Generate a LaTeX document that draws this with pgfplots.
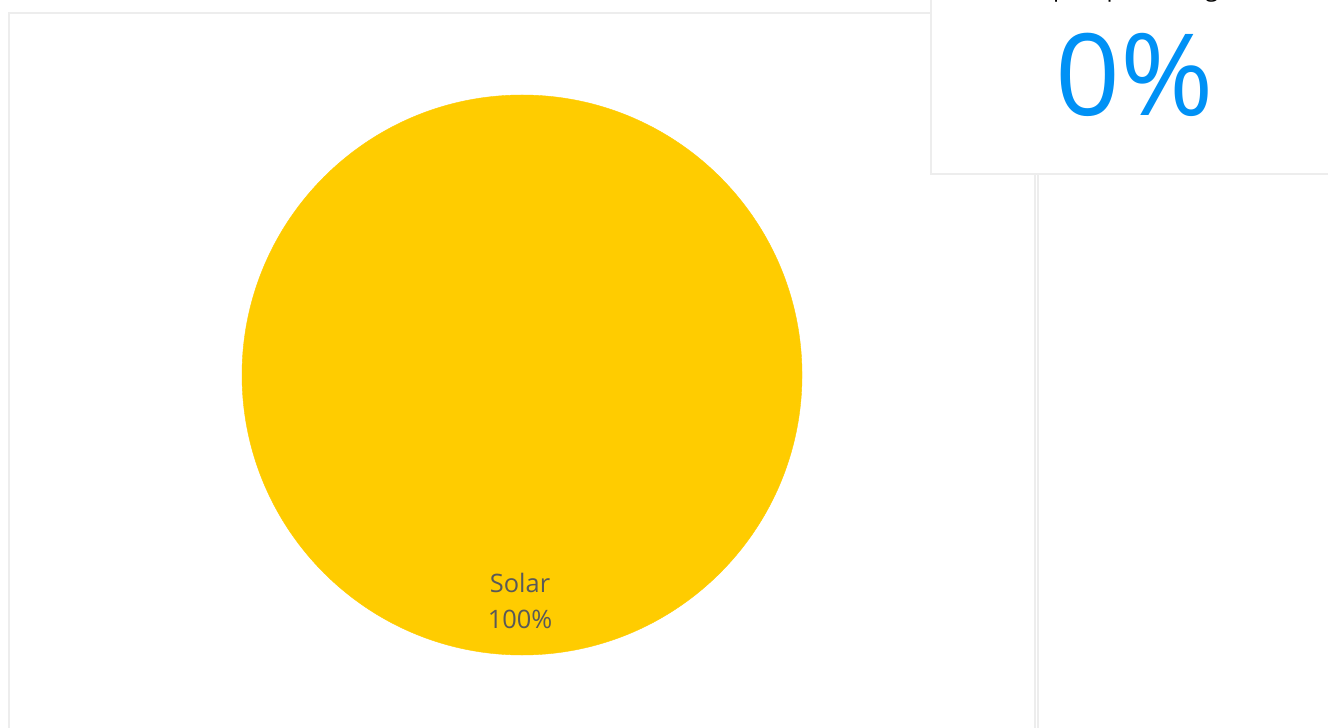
\documentclass[border=0pt]{standalone}
\usepackage{pgfplots}
\pgfplotsset{compat=1.18}
\usepackage{fontspec}
\setmainfont{Open Sans}
\definecolor{pieyellow}{HTML}{FFCC00}
\definecolor{lblgray}{HTML}{595959}
\definecolor{cardblue}{HTML}{0091F5}
\definecolor{bordergray}{HTML}{EDEDED}
\begin{document}
\begin{tikzpicture}[x=1bp,y=1bp]
\path[use as bounding box] (0,0) rectangle (1328,727);
\clip (0,0) rectangle (1328,727);
\begin{axis}[
  at={(0,0)}, anchor=south west,
  width=1328bp, height=727bp, scale only axis,
  xmin=0, xmax=1328, ymin=0, ymax=727, y dir=reverse,
  hide axis, clip=false,
]
% panels
\draw[bordergray, line width=2.5bp, fill=white] (axis cs:9,800) -- (axis cs:9,13) -- (axis cs:1035,13) -- (axis cs:1035,800);
\draw[bordergray, line width=2.5bp] (axis cs:1038,800) -- (axis cs:1038,174);
% pie (single slice: Solar 100%)
\addplot[only marks, mark=*, mark size=280bp, color=pieyellow, mark options={draw=pieyellow, fill=pieyellow}] coordinates {(522,375)};
\coordinate (lbl) at (axis cs:520,601);
\coordinate (card) at (axis cs:1135,75);
\coordinate (ttl) at (axis cs:1128,-3);
\coordinate (cardA) at (axis cs:931,-20);
\coordinate (cardB) at (axis cs:1340,174);
\end{axis}
\node[lblgray, font=\fontsize{25.5}{37}\selectfont, align=center] at (lbl) {Solar\\100\%};
\draw[bordergray, line width=2.5bp, fill=white] (cardA) rectangle (cardB);
\node[cardblue, font=\fontsize{114}{120}\selectfont] at (card) {0\%};
\node[black, font=\fontsize{24}{26}\selectfont, anchor=base] at (ttl) {Import percentage};
\end{tikzpicture}
\end{document}
